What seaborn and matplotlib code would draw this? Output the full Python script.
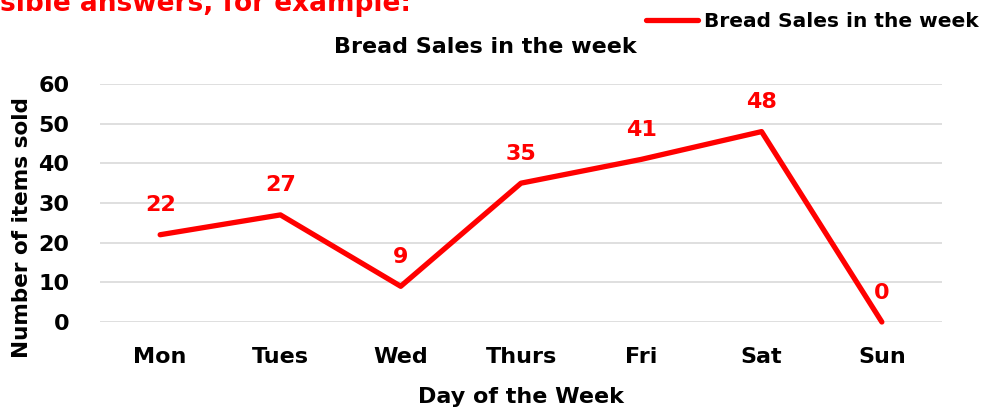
import matplotlib
matplotlib.use("Agg")
import matplotlib.pyplot as plt
import seaborn as sns
import pandas as pd

days = ["Mon", "Tues", "Wed", "Thurs", "Fri", "Sat", "Sun"]
sales = [22, 27, 9, 35, 41, 48, 0]
series_name = "Bread Sales in the week"

df = pd.DataFrame({"day": days, "sales": sales})

sns.set_style("white")
plt.rcParams["font.family"] = ["DejaVu Sans"]
plt.rcParams["font.weight"] = "bold"
plt.rcParams["text.color"] = "black"
plt.rcParams["axes.labelcolor"] = "black"
plt.rcParams["xtick.color"] = "black"
plt.rcParams["ytick.color"] = "black"

fig = plt.figure(figsize=(9.89, 4.11), dpi=100)
ax = fig.add_axes([100 / 989, 1 - 322 / 411, 842 / 989, 238 / 411])

sns.lineplot(data=df, x="day", y="sales", ax=ax, color="#ff0000", linewidth=3.8,
             label=series_name, legend=False, clip_on=False, sort=False)

for i, v in enumerate(sales):
    ax.annotate(str(v), (i, v), xytext=(0, 14), textcoords="offset points",
                ha="center", va="bottom", color="#ff0000", fontsize=16, fontweight="bold")

ax.set_xlim(-0.5, len(days) - 0.5)
ax.set_ylim(0, 60)
ax.set_yticks(range(0, 61, 10))
ax.yaxis.grid(True, color="#d9d9d9", linewidth=1.2)
ax.set_axisbelow(True)
sns.despine(ax=ax, left=True, bottom=True)
ax.tick_params(axis="both", length=0, labelsize=16)
ax.tick_params(axis="y", pad=22)
ax.tick_params(axis="x", pad=18)
for t in ax.get_xticklabels() + ax.get_yticklabels():
    t.set_fontweight("bold")

ax.set_xlabel("Day of the Week", fontsize=16, fontweight="bold")
ax.set_ylabel("Number of items sold", fontsize=15.5, fontweight="bold")
ax.xaxis.set_label_coords(0.5, -0.275)
ax.yaxis.set_label_coords(-0.081, 0.395)

fig.text(485 / 989, 1 - 47 / 411, series_name, fontsize=16, fontweight="bold",
         ha="center", va="center")

handles, labels = ax.get_legend_handles_labels()
fig.legend(handles, labels, loc="upper right", bbox_to_anchor=(1.0, 0.995), frameon=False,
           fontsize=14.5, handlelength=2.6, handletextpad=0.3, borderaxespad=0.1)

fig.text(0.0, 1 - 11 / 411, "sible answers, for example:", color="#ff0000",
         fontsize=19, fontweight="bold", ha="left", va="baseline")

fig.savefig("out.png", dpi=100)
